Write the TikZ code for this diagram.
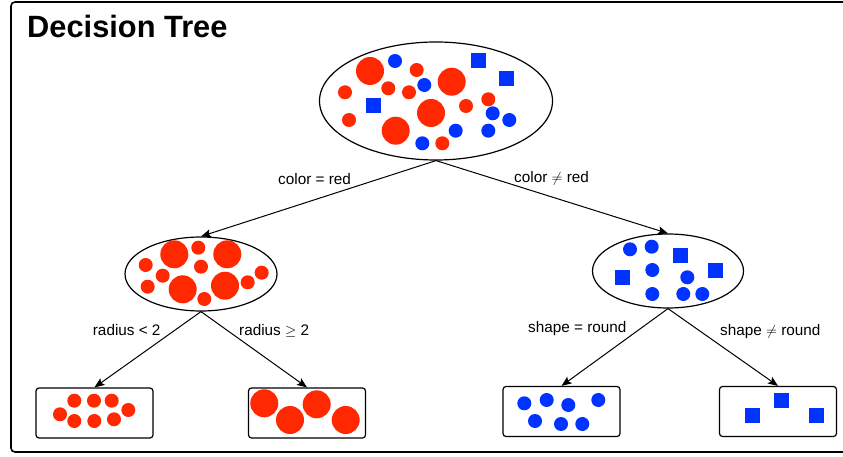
\documentclass[tikz,border=0pt]{standalone}
\usepackage{amsmath}
\usepackage{amssymb}
\usepackage{fontspec}
\setmainfont{Liberation Sans}
\usepackage{xcolor}
\usepackage{tikz}
\usetikzlibrary{shapes.geometric,arrows.meta}

\definecolor{dotred}{RGB}{255,40,0}
\definecolor{dotblue}{RGB}{0,51,255}

\tikzset{
    setnode/.style={ellipse, draw, line width=1.2pt, inner sep=0pt},
    leafbox/.style={rectangle, draw, line width=1.2pt, rounded corners=3pt, inner sep=0pt,
        minimum width=117pt, minimum height=50pt},
    split/.style={line width=1pt, -{Stealth[length=10pt,width=8pt,inset=2pt]}},
    cond/.style={anchor=base west, inner sep=0pt, font=\fontsize{15.3}{18}\selectfont},
}

\begin{document}
\begin{tikzpicture}[x=1pt,y=-1pt]
        \useasboundingbox (0,0) rectangle (843,457);

        %% Outer frame and title
        \draw [line width=1.6pt, rounded corners=4pt] (11,2) rectangle (870,452);
        \node [anchor=base west, inner sep=0pt, font=\fontsize{30.8}{36}\selectfont\bfseries] (title) at (27,37.5) {Decision Tree};

        %% The sets of the tree
        \node [setnode, minimum width=233pt, minimum height=118pt] (root) at (436,101) {};
        \node [setnode, minimum width=152pt, minimum height=74pt] (reds) at (201,274) {};
        \node [setnode, minimum width=151pt, minimum height=74pt] (blues) at (668,271) {};

        %% Leaves
        \node [leafbox] (small) at (94.5,413) {};
        \node [leafbox] (large) at (307,413) {};
        \node [leafbox] (round) at (561.5,411.5) {};
        \node [leafbox] (square) at (778,411.5) {};

        %% Splits
        \draw [split] (root.south) -- (reds.north);
        \draw [split] (root.south) -- (blues.north);
        \draw [split] (reds.south) -- (small.north);
        \draw [split] (reds.south) -- (large.north);
        \draw [split] (blues.south) -- (round.north);
        \draw [split] (blues.south) -- (square.north);

        %% Split labels
        \node [cond] (l-red) at (278,185) {color = red};
        \node [cond] (l-notred) at (514,182.7) {color $\neq$ red};
        \node [cond] (l-small) at (92.7,335) {radius < 2};
        \node [cond] (l-large) at (239,335) {radius $\geq$ 2};
        \node [cond] (l-round) at (528,332.7) {shape = round};
        \node [cond] (l-square) at (720,335) {shape $\neq$ round};

        %% Dots in the root set
        \foreach \x/\y in {370/71, 451.7/81.7, 431/113, 395.7/130.7}
            \fill [dotred] (\x,\y) circle (14);
        \foreach \x/\y in {345/92.3, 349/120, 388.3/88.3, 409/92.3, 416.7/70, 466/106, 488.3/99.3, 442.3/143.3}
            \fill [dotred] (\x,\y) circle (7);
        \foreach \x/\y in {395/61, 424.3/85, 455.7/130.7, 422.3/143.3, 492.7/113.3, 509.3/120, 488.3/130.7}
            \fill [dotblue] (\x,\y) circle (7);
        \foreach \x/\y in {478.3/60.7, 506.7/78.3, 373.3/106}
            \fill [dotblue] (\x-7.5,\y-7.5) rectangle ++(15,15);

        %% Dots in the red set
        \foreach \x/\y in {174.3/254.3, 227.3/254.3, 182.7/289.3, 225/285.7}
            \fill [dotred] (\x,\y) circle (14);
        \foreach \x/\y in {198.3/247.7, 145.7/265, 162.7/275.7, 201/266.7, 147.7/286.7, 204.3/299, 247.7/282.3, 261.7/272.7}
            \fill [dotred] (\x,\y) circle (7);

        %% Dots in the blue set
        \foreach \x/\y in {630/249.3, 651.7/246.7, 652.3/270, 687.3/277.3, 652.3/294, 683.3/294, 702.3/294}
            \fill [dotblue] (\x,\y) circle (7);
        \foreach \x/\y in {680.7/255.7, 622.3/277.3, 715/270.7}
            \fill [dotblue] (\x-7.5,\y-7.5) rectangle ++(15,15);

        %% Dots in the leaves
        \foreach \x/\y in {74.3/400.7, 94/400.7, 111.7/400.7, 60/414.3, 128.3/410, 74.3/421, 94.3/421, 114/419.3}
            \fill [dotred] (\x,\y) circle (7);
        \foreach \x/\y in {264.3/403.3, 290/420, 316.7/404.3, 345.7/420}
            \fill [dotred] (\x,\y) circle (14);
        \foreach \x/\y in {524.3/403.3, 546.7/400, 568.3/405, 598.3/400, 535/421, 561/424, 582.3/424}
            \fill [dotblue] (\x,\y) circle (7);
        \foreach \x/\y in {752.3/415.7, 781/400.7, 816.7/415.7}
            \fill [dotblue] (\x-7.5,\y-7.5) rectangle ++(15,15);
    \end{tikzpicture}
\end{document}
